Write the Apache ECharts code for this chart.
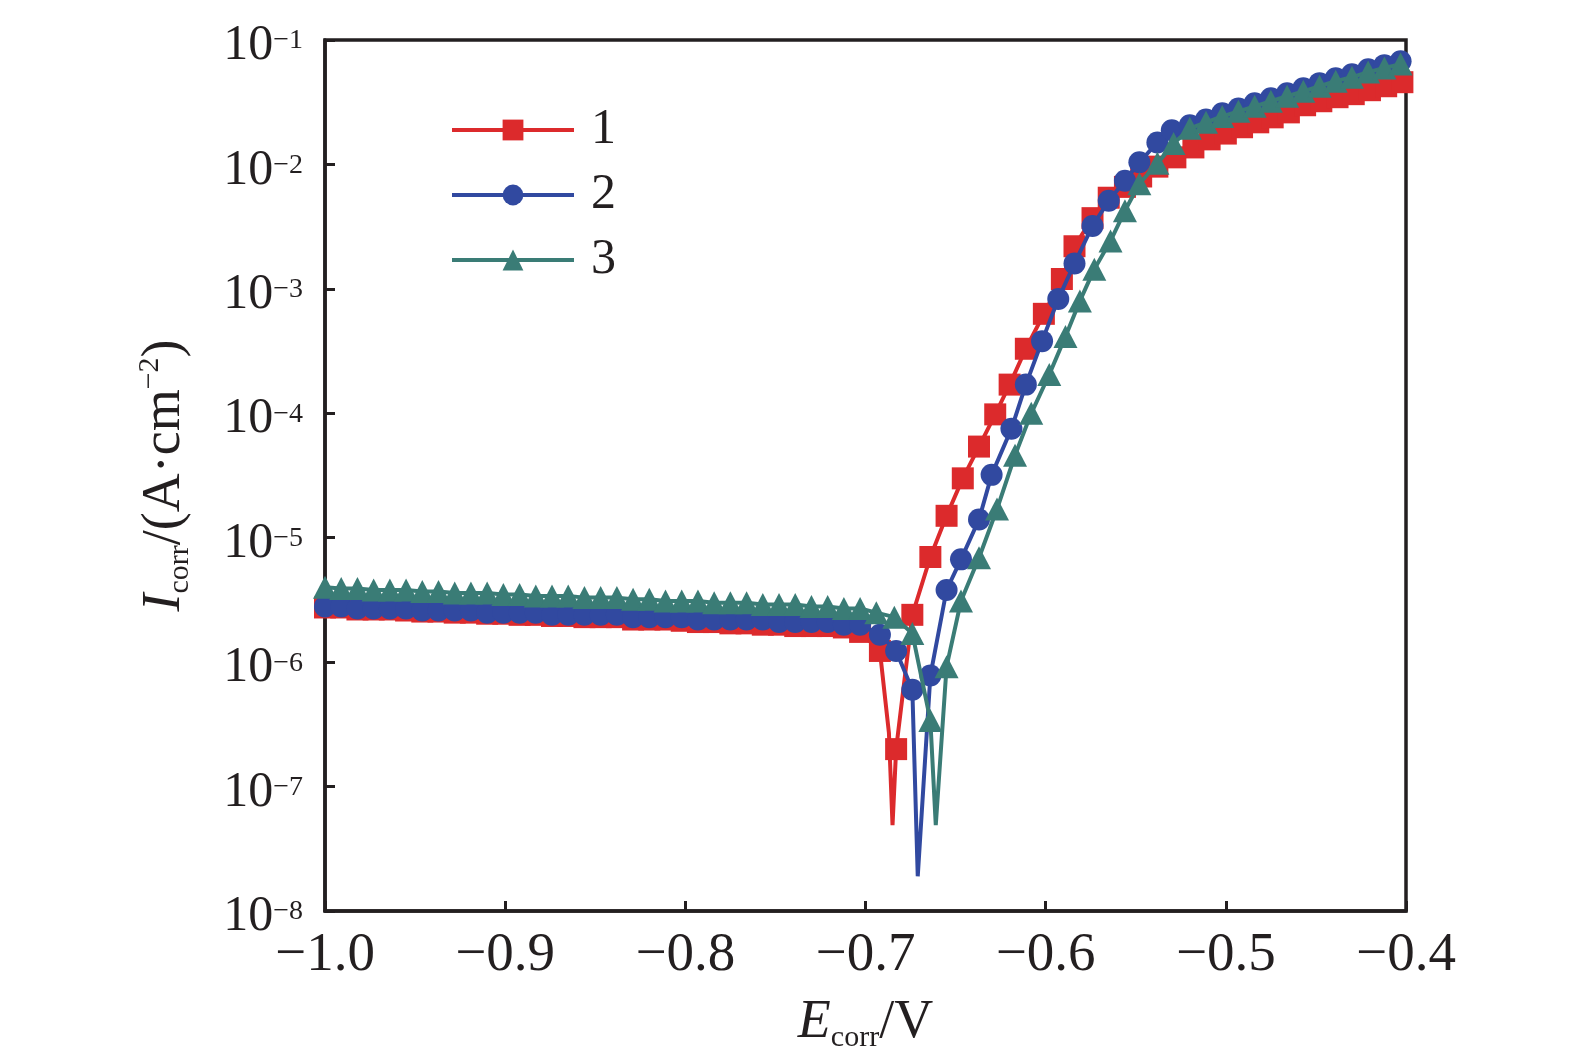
<!DOCTYPE html>
<html lang="zh-CN">
<head>
    <meta charset="UTF-8">
    <title>极化曲线</title>
    <style>
        html, body { margin: 0; padding: 0; background: #fff; overflow: hidden; }
        #chart { width: 100vw; height: 100vh; }
    </style>
</head>
<body>
    <div id="chart"></div>
    <script src="https://cdn.jsdelivr.net/npm/echarts@6/dist/echarts.min.js"></script>
    <script>
        // 平台段电位 (V), 三条曲线共用
        const pE = [-1.000, -0.991, -0.982, -0.973, -0.964, -0.955, -0.946, -0.937, -0.928, -0.919,
            -0.910, -0.901, -0.892, -0.883, -0.874, -0.865, -0.856, -0.847, -0.838, -0.829,
            -0.820, -0.811, -0.802, -0.793, -0.784, -0.775, -0.766, -0.757, -0.748, -0.739,
            -0.730, -0.721, -0.712, -0.703, -0.694];

        // 曲线 1 (A/cm2)
        const pI1 = [2.75e-6, 2.75e-6, 2.65e-6, 2.65e-6, 2.65e-6, 2.6e-6, 2.55e-6, 2.55e-6, 2.5e-6, 2.5e-6,
            2.45e-6, 2.45e-6, 2.4e-6, 2.4e-6, 2.35e-6, 2.35e-6, 2.3e-6, 2.3e-6, 2.3e-6, 2.2e-6,
            2.2e-6, 2.2e-6, 2.15e-6, 2.1e-6, 2.1e-6, 2.05e-6, 2.05e-6, 2.0e-6, 2.0e-6, 1.95e-6,
            1.95e-6, 1.95e-6, 1.9e-6, 1.75e-6];
        const rE1 = [-0.692, -0.683, -0.674, -0.664, -0.655, -0.646, -0.637, -0.628, -0.620, -0.611,
            -0.601, -0.591, -0.584, -0.574, -0.565, -0.556, -0.547, -0.538, -0.528, -0.518,
            -0.509, -0.500, -0.491, -0.482, -0.474, -0.465, -0.456, -0.447, -0.438, -0.429,
            -0.420, -0.411, -0.402];
        const rI1 = [1.23e-6, 2.0e-7, 2.4e-6, 7.0e-6, 1.5e-5, 3.0e-5, 5.4e-5, 9.8e-5, 1.7e-4, 3.3e-4,
            6.3e-4, 1.2e-3, 2.2e-3, 3.7e-3, 5.4e-3, 6.6e-3, 8.0e-3, 9.6e-3, 1.14e-2, 1.37e-2,
            1.59e-2, 1.77e-2, 1.99e-2, 2.18e-2, 2.39e-2, 2.62e-2, 2.99e-2, 3.22e-2, 3.47e-2, 3.67e-2,
            3.95e-2, 4.25e-2, 4.58e-2];
        const dE1 = [-0.687, -0.685];
        const dI1 = [2.7e-7, 4.9e-8];

        // 曲线 2
        const pI2 = [2.8e-6, 2.8e-6, 2.7e-6, 2.7e-6, 2.7e-6, 2.7e-6, 2.6e-6, 2.6e-6, 2.6e-6, 2.6e-6,
            2.5e-6, 2.5e-6, 2.5e-6, 2.5e-6, 2.4e-6, 2.4e-6, 2.4e-6, 2.4e-6, 2.4e-6, 2.3e-6,
            2.3e-6, 2.3e-6, 2.3e-6, 2.2e-6, 2.2e-6, 2.2e-6, 2.2e-6, 2.2e-6, 2.1e-6, 2.1e-6,
            2.1e-6, 2.1e-6, 2.0e-6, 2.0e-6];
        const rE2 = [-0.692, -0.683, -0.674, -0.664, -0.655, -0.647, -0.637, -0.630, -0.619, -0.611,
            -0.602, -0.593, -0.584, -0.574, -0.565, -0.556, -0.548, -0.538, -0.530, -0.520,
            -0.511, -0.502, -0.493, -0.484, -0.475, -0.466, -0.457, -0.448, -0.439, -0.430,
            -0.421, -0.412, -0.403];
        const rI2 = [1.66e-6, 1.23e-6, 6.0e-7, 7.8e-7, 3.8e-6, 6.7e-6, 1.4e-5, 3.2e-5, 7.5e-5, 1.7e-4,
            3.8e-4, 8.3e-4, 1.6e-3, 3.2e-3, 5.1e-3, 7.4e-3, 1.04e-2, 1.50e-2, 1.88e-2, 2.06e-2,
            2.30e-2, 2.58e-2, 2.82e-2, 3.10e-2, 3.40e-2, 3.73e-2, 4.09e-2, 4.50e-2, 4.93e-2, 5.31e-2,
            5.83e-2, 6.28e-2, 6.76e-2];
        const dE2 = [-0.671];
        const dI2 = [1.9e-8];

        // 曲线 3
        const pI3 = [4.0e-6, 3.9e-6, 3.9e-6, 3.8e-6, 3.8e-6, 3.8e-6, 3.7e-6, 3.7e-6, 3.6e-6, 3.6e-6,
            3.6e-6, 3.5e-6, 3.5e-6, 3.4e-6, 3.4e-6, 3.4e-6, 3.3e-6, 3.3e-6, 3.3e-6, 3.2e-6,
            3.2e-6, 3.1e-6, 3.1e-6, 3.1e-6, 3.0e-6, 3.0e-6, 3.0e-6, 2.9e-6, 2.9e-6, 2.9e-6,
            2.8e-6, 2.8e-6, 2.7e-6, 2.7e-6, 2.5e-6];
        const rE3 = [-0.684, -0.674, -0.664, -0.655, -0.647, -0.637, -0.627, -0.617, -0.608, -0.598,
            -0.589, -0.581, -0.573, -0.564, -0.556, -0.548, -0.538, -0.529, -0.520, -0.511,
            -0.502, -0.493, -0.484, -0.475, -0.466, -0.457, -0.448, -0.439, -0.430, -0.421,
            -0.412, -0.403];
        const rI3 = [2.3e-6, 1.7e-6, 3.4e-7, 9.2e-7, 3.1e-6, 6.9e-6, 1.7e-5, 4.6e-5, 1.0e-4, 2.05e-4,
            4.15e-4, 8.0e-4, 1.44e-3, 2.43e-3, 4.24e-3, 7.0e-3, 1.02e-2, 1.47e-2, 1.95e-2, 2.18e-2,
            2.43e-2, 2.67e-2, 2.93e-2, 3.22e-2, 3.53e-2, 3.87e-2, 4.25e-2, 4.67e-2, 5.03e-2, 5.52e-2,
            5.95e-2, 6.4e-2];
        const dE3 = [-0.661];
        const dI3 = [4.9e-8];

        const names = ['1', '2', '3'];
        const colors = ['#dc2a2c', '#3149a0', '#3a7c76'];

        const serif = "'Liberation Serif', 'Times New Roman', serif";
        const ink = '#231f20';

        // 合并带标记的点和谷底只画线的点
        function buildData(pI, rE, rI, dE, dI) {
            const pts = [];
            pI.forEach(function (v, i) { pts.push({ value: [pE[i], v] }); });
            rE.forEach(function (e, i) { pts.push({ value: [e, rI[i]] }); });
            dE.forEach(function (e, i) { pts.push({ value: [e, dI[i]], symbol: 'none' }); });
            pts.sort(function (a, b) { return a.value[0] - b.value[0]; });
            return pts;
        }

        const datasets = [
            buildData(pI1, rE1, rI1, dE1, dI1),
            buildData(pI2, rE2, rI2, dE2, dI2),
            buildData(pI3, rE3, rI3, dE3, dI3)
        ];
        const symbols = ['rect', 'circle', 'triangle'];
        const sizes = [22, 22, [24, 23]];

        const chart = echarts.init(document.getElementById('chart'));
        chart.setOption({
            animation: false,
            backgroundColor: '#fff',
            grid: {
                left: 325, right: 169, top: 40, bottom: 151,
                show: true, borderColor: ink, borderWidth: 3.5
            },
            legend: {
                orient: 'vertical',
                left: 445,
                top: 100,
                itemWidth: 122,
                itemHeight: 26,
                itemGap: 15,
                data: names,
                lineStyle: { width: 4 },
                textStyle: { fontFamily: serif, fontSize: 50, color: ink, padding: [0, 0, 0, 12] }
            },
            xAxis: {
                type: 'value',
                min: -1.0,
                max: -0.4,
                interval: 0.1,
                splitLine: { show: false },
                axisLine: { lineStyle: { color: ink, width: 3.5 } },
                axisTick: { inside: true, length: 10, lineStyle: { color: ink, width: 3 } },
                axisLabel: {
                    margin: 17,
                    fontFamily: serif,
                    fontSize: 55,
                    color: ink,
                    formatter: function (v) { return v.toFixed(1).replace('-', '\u2212'); }
                },
                name: '{i|E}{sub|corr}{n|/V}',
                nameLocation: 'middle',
                nameGap: 82,
                nameTextStyle: {
                    fontFamily: serif,
                    color: ink,
                    rich: {
                        i: { fontFamily: serif, fontStyle: 'italic', fontSize: 54, color: ink, lineHeight: 60 },
                        sub: { fontFamily: serif, fontSize: 30, color: ink, lineHeight: 30, verticalAlign: 'bottom' },
                        n: { fontFamily: serif, fontSize: 54, color: ink, lineHeight: 60 }
                    }
                }
            },
            yAxis: {
                type: 'log',
                logBase: 10,
                min: 1e-8,
                max: 1e-1,
                splitNumber: 7,
                splitLine: { show: false },
                minorTick: { show: false },
                axisLine: { lineStyle: { color: ink, width: 3.5 } },
                axisTick: { inside: true, length: 10, lineStyle: { color: ink, width: 3 } },
                axisLabel: {
                    margin: 22,
                    padding: [12, 0, 0, 0],
                    formatter: function (v) {
                        const ex = Math.round(Math.log10(v));
                        return '{b|10}{s|\u2212' + (-ex) + '}';
                    },
                    rich: {
                        b: { fontFamily: serif, fontSize: 50, color: ink, lineHeight: 56 },
                        s: { fontFamily: serif, fontSize: 28, color: ink, lineHeight: 30, verticalAlign: 'top', padding: [9, 0, 0, 0] }
                    }
                },
                name: '{i|I}{sub|corr}{n|/(A\u00b7cm}{sup|\u22122}{n|)}',
                nameLocation: 'middle',
                nameRotate: 90,
                nameGap: 130,
                nameTextStyle: {
                    fontFamily: serif,
                    color: ink,
                    rich: {
                        i: { fontFamily: serif, fontStyle: 'italic', fontSize: 54, color: ink, lineHeight: 60 },
                        sub: { fontFamily: serif, fontSize: 30, color: ink, lineHeight: 30, verticalAlign: 'bottom' },
                        n: { fontFamily: serif, fontSize: 54, color: ink, lineHeight: 60 },
                        sup: { fontFamily: serif, fontSize: 30, color: ink, lineHeight: 30, verticalAlign: 'top' }
                    }
                }
            },
            series: datasets.map(function (d, i) {
                return {
                    name: names[i],
                    type: 'line',
                    data: d,
                    symbol: symbols[i],
                    symbolSize: sizes[i],
                    showAllSymbol: true,
                    lineStyle: { color: colors[i], width: 4 },
                    itemStyle: { color: colors[i], borderWidth: 0 },
                    z: 2 + i
                };
            })
        });

        window.addEventListener('resize', function () {
            chart.resize();
        });
    </script>
</body>
</html>
